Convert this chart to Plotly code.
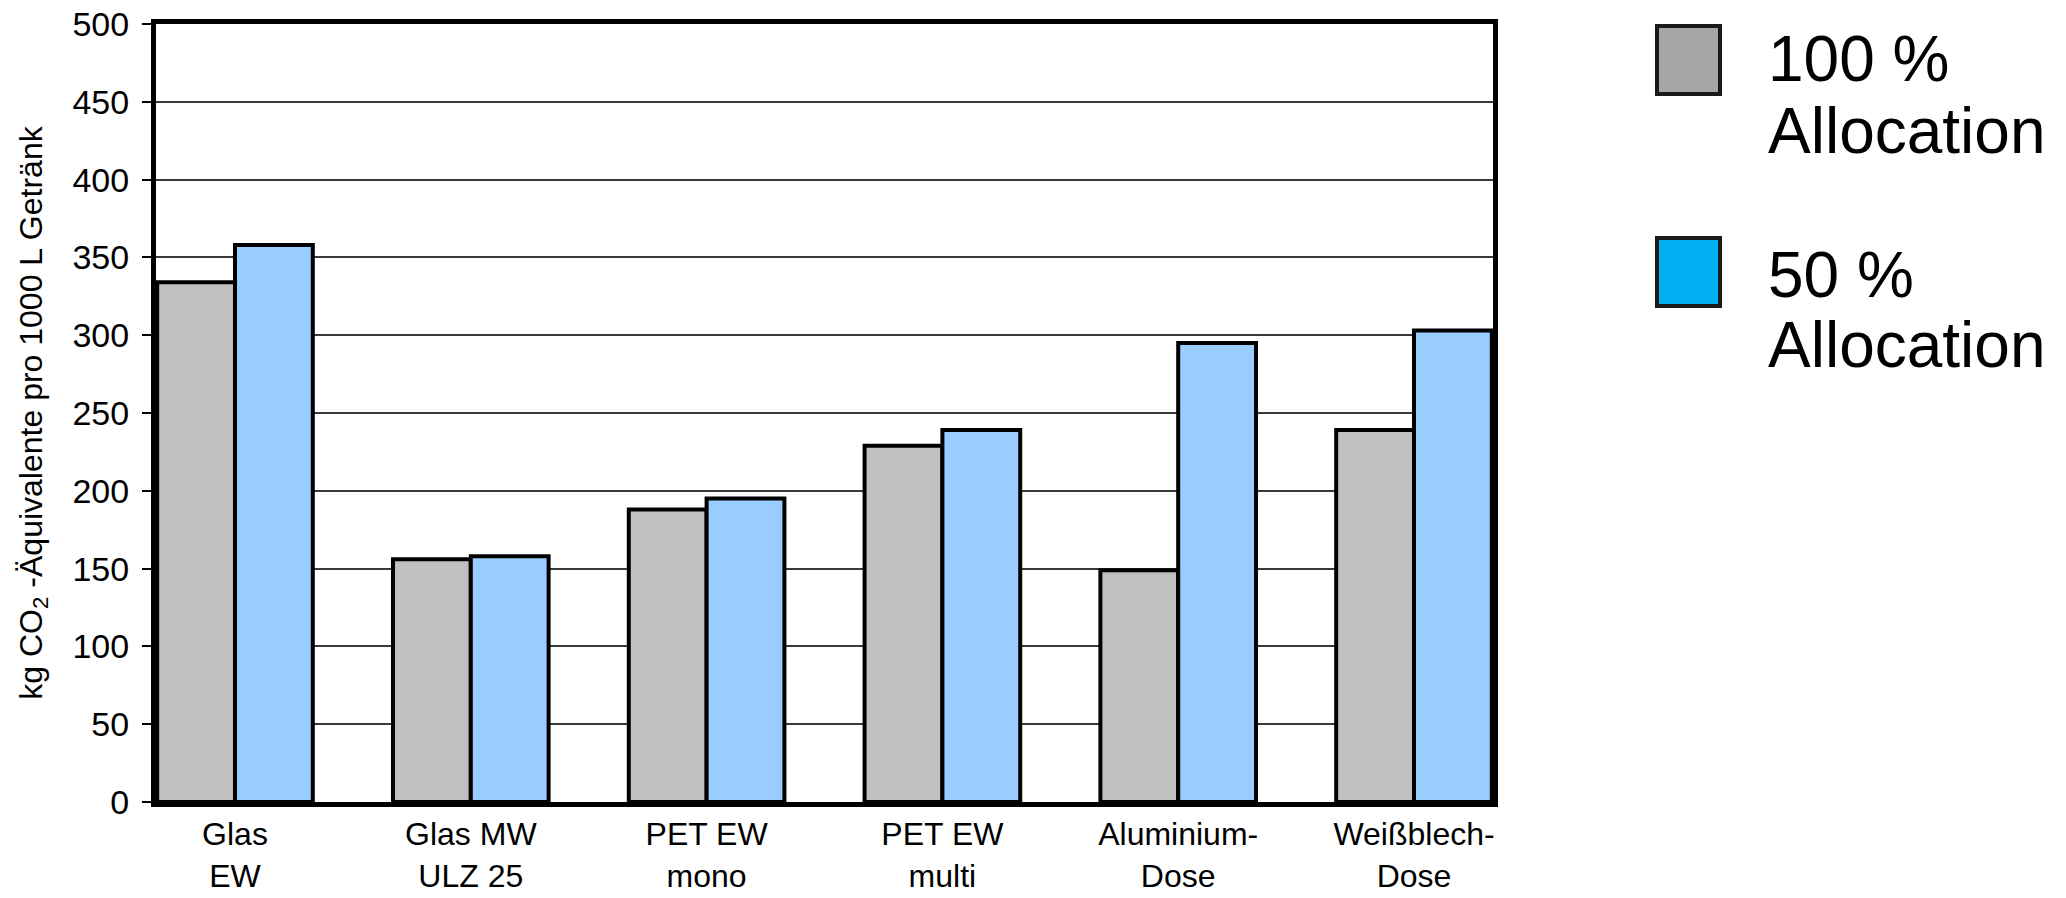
import plotly.graph_objects as go

# Packaging systems and their CO2 results (kg CO2-eq per 1000 L beverage)
categories = ["Glas<br>EW", "Glas MW<br>ULZ 25", "PET EW<br>mono", "PET EW<br>multi",
              "Aluminium-<br>Dose", "Weißblech-<br>Dose"]
alloc_100 = [334, 156, 188, 229, 149, 239]
alloc_50 = [358, 158, 195, 239, 295, 303]
legend_labels = ["100 %<br>Allocation", "50 %<br>Allocation"]
y_ticks = list(range(0, 501, 50))

W, H = 2066, 898
L, R, T, B = 156, 573, 24, 96
PW, PH = W - L - R, H - T - B

FONT = "Liberation Sans, Arial, sans-serif"
BAR_GREY = "#c0c0c0"
BAR_BLUE = "#99ccff"
KEY_GREY = "#a6a6a6"
KEY_BLUE = "#00b0f0"


def px_x(p):
    return (p - L) / PW


def px_y(p):
    return 1 - (p - T) / PH


xpos = list(range(len(categories)))

fig = go.Figure()
fig.add_trace(go.Bar(x=xpos, y=alloc_100, name="100 % Allocation",
                     marker=dict(color=BAR_GREY, line=dict(color="black", width=4))))
fig.add_trace(go.Bar(x=xpos, y=alloc_50, name="50 % Allocation",
                     marker=dict(color=BAR_BLUE, line=dict(color="black", width=4))))

# Legend key drawn next to the plot
shapes = []
annotations = []
keys = [(KEY_GREY, 26, 94, 59, 131), (KEY_BLUE, 238, 306, 275, 345)]
for (col, y0, y1, c1, c2), lab in zip(keys, legend_labels):
    shapes.append(dict(type="rect", xref="paper", yref="paper",
                       x0=px_x(1657), x1=px_x(1720), y0=px_y(y1), y1=px_y(y0),
                       fillcolor=col, line=dict(color="#1a1a1a", width=4)))
    for txt, cy in zip(lab.split("<br>"), (c1, c2)):
        annotations.append(dict(text=txt, xref="paper", yref="paper",
                                x=px_x(1766), y=px_y(cy), xanchor="left", yanchor="middle",
                                showarrow=False,
                                font=dict(family=FONT, size=64, color="black")))

fig.update_layout(
    width=W, height=H,
    margin=dict(l=L, r=R, t=T, b=B, pad=0, autoexpand=False),
    paper_bgcolor="white", plot_bgcolor="white",
    barmode="group", bargap=0.34, bargroupgap=0,
    showlegend=False,
    shapes=shapes, annotations=annotations,
    font=dict(family=FONT, color="black"),
)
fig.update_xaxes(
    range=[-0.335, 5.335], automargin=False,
    tickmode="array", tickvals=xpos, ticktext=categories,
    tickfont=dict(family=FONT, size=32, color="black"),
    showgrid=False, zeroline=False, ticks="",
    showline=True, linecolor="black", linewidth=5, mirror=True,
)
fig.update_yaxes(
    range=[0, 500], automargin=False, tickmode="array", tickvals=y_ticks,
    tickfont=dict(family=FONT, size=34, color="black"),
    ticklabelstandoff=6,
    showgrid=True, gridcolor="#3a3a3a", gridwidth=1.5,
    zeroline=False, ticks="outside", ticklen=9, tickwidth=2, tickcolor="black",
    showline=True, linecolor="black", linewidth=5, mirror=True,
    title=dict(text="kg CO<sub>2</sub> -Äquivalente pro 1000 L Getränk",
               font=dict(family=FONT, size=32, color="black"), standoff=22),
)

fig.write_html("out.html")
